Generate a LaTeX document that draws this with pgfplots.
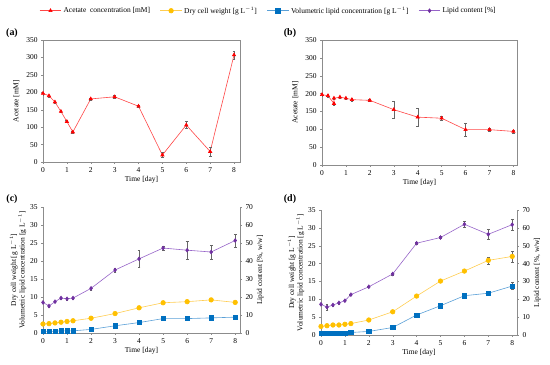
\documentclass[border=0pt]{standalone}
\usepackage{pgfplots}
\pgfplotsset{compat=1.18}
\usepackage{fontspec}
\setmainfont{Liberation Serif}
\definecolor{cred}{RGB}{255,0,0}
\definecolor{credl}{RGB}{255,70,70}
\definecolor{cyel}{RGB}{255,192,0}
\definecolor{cyell}{RGB}{255,205,80}
\definecolor{cblue}{RGB}{0,112,192}
\definecolor{cbluel}{RGB}{90,160,215}
\definecolor{cpur}{RGB}{112,48,160}
\definecolor{cpurl}{RGB}{150,100,200}
\pgfplotsset{
  base/.style={scale only axis, xmin=0, xmax=8.2, xtick={0,1,...,8},
    tick align=outside, axis line style={black!45}, major tick length=2pt,
    every tick/.style={black!45},
    tick label style={font=\fontsize{7.5}{8}\selectfont},
    label style={font=\fontsize{7.5}{8.5}\selectfont},
    /pgf/number format/assume math mode=true,
    xlabel={Time [day]}, xlabel style={yshift=3pt},
    error bars/y dir=both, error bars/y explicit,
    error bars/error bar style={black!60, line width=0.4pt},
    error bars/error mark options={rotate=90, mark size=1.4pt, black!60, line width=0.4pt}},
  acet/.style={color=credl, line width=0.6pt, mark=triangle*, mark size=1.9pt, mark options={cred, fill=cred}},
  dcw/.style={color=cyell, line width=0.6pt, mark=*, mark size=2.3pt, mark options={cyel, fill=cyel}},
  vol/.style={color=cbluel, line width=0.6pt, mark=square*, mark size=2.2pt, mark options={cblue, fill=cblue}},
  lip/.style={color=cpurl, line width=0.6pt, mark=diamond*, mark size=1.9pt, mark options={cpur, fill=cpur}},
}
\begin{document}
\begin{tikzpicture}
\useasboundingbox (0,0) rectangle (550bp,365bp);
% (a)
\begin{axis}[base, at={(43bp,203bp)}, anchor=south west, width=197bp, height=122bp, xmax=8.25,
  ymin=0, ymax=350, ytick={0,50,...,350}, ylabel={Acetate [mM]}, tick pos=left,
  legend style={at={(1.145,1.24)}, anchor=center, legend columns=4, draw=none, fill=none,
    font=\fontsize{7.5}{8}\selectfont, /tikz/every even column/.append style={column sep=8pt}},
  legend image code/.code={\draw[mark repeat=2,mark phase=2,#1] plot coordinates {(0cm,0cm) (0.38cm,0cm) (0.76cm,0cm)};}]
\addplot[acet] table[x=x,y=y,y error=e] {
x y e
0 197 4
0.25 190 3
0.5 172 3
0.75 145 3
1 116 3
1.25 86 3
2 181 3
3 187 5
4 160 3
5 20 7
6 106 10
7 30 12
8 307 12
};
\addlegendentry{Acetate\ \ concentration [mM]}
\addlegendimage{dcw}
\addlegendentry{Dry cell weight [g L$^{-1}$]}
\addlegendimage{vol}
\addlegendentry{Volumetric lipid concentration [g L$^{-1}$]}
\addlegendimage{lip}
\addlegendentry{Lipid content [\%]}
\end{axis}
\node[font=\bfseries\fontsize{10}{11}\selectfont] at (12bp,332bp) {(a)};
% (b)
\begin{axis}[base, at={(322bp,200bp)}, anchor=south west, width=195bp, height=125bp, xmax=8.15,
  ymin=0, ymax=350, ytick={0,50,...,350}, ylabel={Acetate [mM]}, tick pos=left]
\addplot[acet] table[x=x,y=y,y error=e] {
x y e
0 197 4
0.25 194 4
0.5 172 5
0.5 187 4
0.75 190 4
1 187 3
1.25 183 3
2 181 3
3 155 23
4 134 25
5 131 5
6 99 17
7 99 4
8 94 4
};
\end{axis}
\node[font=\bfseries\fontsize{10}{11}\selectfont] at (290bp,332bp) {(b)};
% (c)
\begin{axis}[base, at={(43bp,32bp)}, anchor=south west, width=197bp, height=126bp,
  ymin=0, ymax=35, ytick={0,5,...,35}, axis y line*=left, axis x line*=bottom,
  ylabel={Dry cell weight [g L$^{-1}$]\\Volumetric lipid concentration [g L$^{-1}$]},
  ylabel style={align=center, yshift=-3pt}]
\addplot[dcw] table[x=x,y=y] {
x y
0 2.5
0.25 2.6
0.5 2.8
0.75 3.0
1 3.2
1.25 3.4
2 4.1
3 5.4
4 7.0
5 8.4
6 8.7
7 9.2
8 8.5
};
\addplot[vol] table[x=x,y=y] {
x y
0 0.4
0.25 0.4
0.5 0.5
0.75 0.6
1 0.6
1.25 0.6
2 1.0
3 2.0
4 2.9
5 4.0
6 4.0
7 4.2
8 4.4
};
\end{axis}
\begin{axis}[base, at={(43bp,32bp)}, anchor=south west, width=197bp, height=126bp,
  ymin=0, ymax=70, ytick={0,10,...,70}, axis y line*=right, axis x line=none, xlabel={},
  ylabel={Lipid content [\%, w/w]}, ylabel style={yshift=3pt}]
\addplot[lip] table[x=x,y=y,y error=e] {
x y e
0 17 0.5
0.25 15 0.5
0.5 17.4 0.5
0.75 19.4 0.5
1 19 0.5
1.25 19.4 0.5
2 24.8 0.8
3 35 1
4 41.2 4.6
5 47.2 1
6 46 5.2
7 45 4
8 51.4 3.6
};
\end{axis}
\node[font=\bfseries\fontsize{10}{11}\selectfont] at (12bp,166bp) {(c)};
% (d)
\begin{axis}[base, at={(321bp,30bp)}, anchor=south west, width=196bp, height=125bp,
  ymin=0, ymax=35, ytick={0,5,...,35}, axis y line*=left, axis x line*=bottom,
  ylabel={Dry cell weight [g L$^{-1}$]\\Volumetric lipid concentration [g L$^{-1}$]},
  ylabel style={align=center, yshift=-3pt}]
\addplot[dcw] table[x=x,y=y,y error=e] {
x y e
0 2.4 0
0.25 2.6 0
0.5 2.8 0
0.75 2.8 0
1 3.0 0
1.25 3.2 0
2 4.2 0
3 6.5 0
4 10.9 0
5 15.1 0
6 17.9 0
7 20.9 1
8 22.0 1.5
};
\addplot[vol] table[x=x,y=y,y error=e] {
x y e
0 0.5 0
0.25 0.5 0
0.5 0.5 0
0.75 0.5 0
1 0.5 0
1.25 0.7 0
2 1.0 0
3 2.1 0
4 5.6 0
5 8.2 0
6 11.0 0
7 11.7 0
8 13.7 1
};
\end{axis}
\begin{axis}[base, at={(321bp,30bp)}, anchor=south west, width=196bp, height=125bp,
  ymin=0, ymax=70, ytick={0,10,...,70}, axis y line*=right, axis x line=none, xlabel={},
  ylabel={Lipid content [\%, w/w]}, ylabel style={yshift=3pt}]
\addplot[lip] table[x=x,y=y,y error=e] {
x y e
0 17.2 0.5
0.25 15.6 1.5
0.5 16.8 0.5
0.75 18 0.5
1 19.2 0.5
1.25 22.6 0.5
2 27 0.5
3 34.2 0.5
4 51.4 0.5
5 54.6 0.5
6 62 1.5
7 56.4 3
8 61.8 3
};
\end{axis}
\node[font=\bfseries\fontsize{10}{11}\selectfont] at (290bp,166bp) {(d)};
\end{tikzpicture}
\end{document}
